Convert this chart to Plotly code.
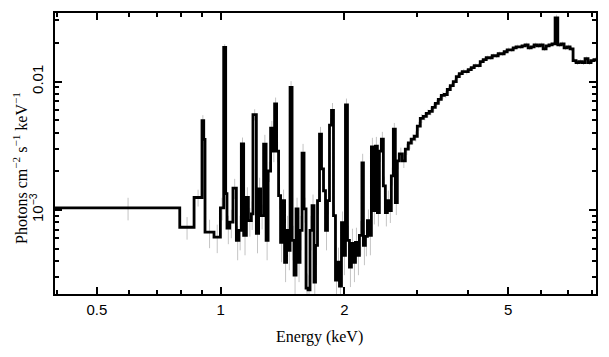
import plotly.graph_objects as go

# Bin edges (keV) of the step spectrum
energy_edges = [
    0.3955, 0.7952, 0.8615, 0.9007, 0.9094, 0.9160, 0.9632, 0.9983, 1.0169, 1.0283,
    1.0358, 1.0516, 1.0711, 1.0917, 1.1076, 1.1225, 1.1372, 1.1546, 1.1676, 1.1873,
    1.1980, 1.2210, 1.2366, 1.2505, 1.2716, 1.2895, 1.3040, 1.3224, 1.3410, 1.3523,
    1.3675, 1.3829, 1.3984, 1.4141, 1.4300, 1.4461, 1.4624, 1.4747, 1.4913, 1.5080,
    1.5250, 1.5421, 1.5595, 1.5770, 1.5947, 1.6126, 1.6308, 1.6491, 1.6676, 1.6863,
    1.7005, 1.7196, 1.7389, 1.7585, 1.7783, 1.7983, 1.8185, 1.8389, 1.8596, 1.8805,
    1.9016, 1.9230, 1.9446, 1.9664, 1.9885, 2.0109, 2.0335, 2.0563, 2.0794, 2.1028,
    2.1264, 2.1503, 2.1744, 2.2050, 2.2236, 2.2485, 2.2738, 2.2993, 2.3251, 2.3513,
    2.3777, 2.4044, 2.4314, 2.4587, 2.4863, 2.5142, 2.5425, 2.5710, 2.5999, 2.6291,
    2.6586, 2.6885, 2.7187, 2.7647, 2.8115, 2.8590, 2.9073, 2.9565, 3.0065, 3.0573,
    3.1090, 3.1623, 3.2157, 3.2701, 3.3254, 3.3816, 3.4388, 3.4970, 3.5561, 3.6162,
    3.6774, 3.7396, 3.8028, 3.8671, 3.9325, 3.9990, 4.0666, 4.1354, 4.2053, 4.2764,
    4.3487, 4.4223, 4.4970, 4.5731, 4.6504, 4.7291, 4.8090, 4.8903, 4.9730, 5.0571,
    5.1426, 5.2296, 5.3180, 5.4079, 5.4994, 5.5924, 5.6869, 5.7831, 5.8809, 5.9803,
    6.0815, 6.1843, 6.2889, 6.3953, 6.5034, 6.6024, 6.7252, 6.8389, 6.9545, 7.0721,
    7.1917, 7.3133, 7.4370, 7.5628, 7.6906, 7.8207, 7.9529, 8.0874, 8.2242,
]

# Flux per bin (photons cm^-2 s^-1 keV^-1)
flux = [
    1.036e-3, 7.33e-4, 1.25e-3, 4.97e-3, 3.54e-3, 6.71e-4, 6.14e-4, 1.036e-3, 1.842e-2, 1.34e-3,
    7.21e-4, 8.02e-4, 1.48e-3, 5.79e-4, 6.92e-4, 3.27e-3, 6.33e-4, 1.25e-3, 8.26e-4, 9.31e-4,
    5.53e-3, 6.56e-4, 1.46e-3, 9.03e-4, 3.26e-3, 5.79e-4, 2.01e-3, 4.33e-3, 2.87e-3, 6.70e-3,
    2.87e-3, 1.29e-3, 5.59e-4, 1.18e-3, 3.91e-4, 6.92e-4, 4.84e-4, 8.99e-3, 5.79e-4, 3.10e-4,
    1.02e-3, 3.91e-4, 6.92e-4, 2.77e-3, 1.02e-3, 2.46e-4, 2.38e-4, 6.92e-4, 1.08e-3, 2.74e-4,
    5.30e-4, 1.18e-3, 3.89e-3, 2.09e-3, 1.41e-3, 6.92e-4, 1.18e-3, 4.57e-3, 5.97e-3, 9.03e-4,
    2.84e-4, 3.91e-4, 2.55e-4, 7.97e-4, 4.43e-4, 6.58e-3, 5.79e-4, 3.58e-4, 5.49e-4, 3.91e-4,
    5.59e-4, 4.43e-4, 6.33e-4, 2.32e-3, 5.30e-4, 6.22e-4, 8.26e-4, 6.33e-4, 3.09e-3, 9.88e-4,
    3.14e-3, 9.53e-4, 2.87e-3, 3.56e-3, 1.54e-3, 9.53e-4, 1.18e-3, 9.88e-4, 1.84e-3, 4.25e-3,
    1.14e-3, 2.41e-3, 2.73e-3, 2.41e-3, 2.98e-3, 3.32e-3, 3.56e-3, 3.75e-3, 4.49e-3, 5.17e-3,
    5.36e-3, 5.65e-3, 5.86e-3, 6.29e-3, 6.76e-3, 7.26e-3, 7.79e-3, 7.93e-3, 8.67e-3, 9.31e-3,
    1.000e-2, 1.093e-2, 1.153e-2, 1.195e-2, 1.195e-2, 1.238e-2, 1.283e-2, 1.330e-2, 1.330e-2, 1.428e-2,
    1.480e-2, 1.533e-2, 1.533e-2, 1.589e-2, 1.589e-2, 1.647e-2, 1.647e-2, 1.706e-2, 1.768e-2, 1.768e-2,
    1.832e-2, 1.865e-2, 1.865e-2, 1.898e-2, 1.932e-2, 1.832e-2, 1.865e-2, 1.932e-2, 1.898e-2, 1.932e-2,
    1.800e-2, 1.898e-2, 1.932e-2, 1.967e-2, 3.126e-2, 1.932e-2, 1.967e-2, 1.832e-2, 1.865e-2, 1.800e-2,
    1.454e-2, 1.403e-2, 1.428e-2, 1.403e-2, 1.506e-2, 1.403e-2, 1.454e-2, 1.480e-2,
]

# Relative 1-sigma error per bin
rel_err = [
    0.20, 0.20, 0.15, 0.10, 0.12, 0.25, 0.25, 0.20, 0.06, 0.20,
    0.25, 0.25, 0.18, 0.30, 0.30, 0.12, 0.30, 0.20, 0.25, 0.25,
    0.10, 0.30, 0.22, 0.22, 0.18, 0.30, 0.18, 0.14, 0.18, 0.12,
    0.18, 0.22, 0.30, 0.22, 0.30, 0.30, 0.30, 0.12, 0.30, 0.30,
    0.22, 0.30, 0.30, 0.18, 0.22, 0.30, 0.30, 0.30, 0.22, 0.30,
    0.30, 0.22, 0.14, 0.18, 0.22, 0.30, 0.22, 0.14, 0.14, 0.22,
    0.30, 0.30, 0.30, 0.22, 0.30, 0.12, 0.30, 0.30, 0.30, 0.30,
    0.30, 0.30, 0.30, 0.18, 0.30, 0.30, 0.22, 0.30, 0.18, 0.22,
    0.18, 0.22, 0.18, 0.14, 0.18, 0.22, 0.20, 0.20, 0.16, 0.12,
    0.20, 0.14, 0.12, 0.12, 0.10, 0.10, 0.09, 0.09, 0.08, 0.08,
    0.07, 0.07, 0.07, 0.07, 0.06, 0.06, 0.06, 0.06, 0.06, 0.05,
    0.05, 0.05, 0.05, 0.05, 0.05, 0.05, 0.05, 0.04, 0.04, 0.04,
    0.04, 0.04, 0.04, 0.04, 0.04, 0.04, 0.04, 0.04, 0.04, 0.04,
    0.04, 0.04, 0.04, 0.04, 0.04, 0.04, 0.04, 0.04, 0.04, 0.04,
    0.04, 0.04, 0.04, 0.04, 0.06, 0.04, 0.04, 0.04, 0.04, 0.04,
    0.04, 0.04, 0.04, 0.04, 0.04, 0.04, 0.04, 0.04,
]

x_tick_vals = [0.5, 1, 2, 5]
x_tick_text = ["0.5", "1", "2", "5"]
x_minor_vals = [0.4, 0.6, 0.7, 0.8, 0.9, 3, 4, 6, 7, 8]
y_tick_vals = [1e-3, 1e-2]
y_tick_text = ["10<sup>\u22123</sup>", "0.01"]
y_minor_vals = [3e-4, 4e-4, 5e-4, 6e-4, 7e-4, 8e-4, 9e-4,
                2e-3, 3e-3, 4e-3, 5e-3, 6e-3, 7e-3, 8e-3, 9e-3, 2e-2, 3e-2]

x_range = [-0.4029, 0.9126]
y_range = [-3.655, -1.466]

# error bars as vertical segments at the linear bin centres
ex, ey = [], []
for i, f in enumerate(flux):
    c = 0.5 * (energy_edges[i] + energy_edges[i + 1])
    ex += [c, c, None]
    ey += [f * (1 - rel_err[i]), f * (1 + rel_err[i]), None]

fig = go.Figure()
fig.add_trace(go.Scatter(x=ex, y=ey, mode="lines",
                         line=dict(color="#c4c4c4", width=1),
                         hoverinfo="skip", showlegend=False))
fig.add_trace(go.Scatter(x=energy_edges, y=flux + [flux[-1]], mode="lines",
                         line=dict(color="black", width=2.8, shape="hv"),
                         showlegend=False))

axis_common = dict(
    type="log", showgrid=False, zeroline=False,
    showline=True, linecolor="black", linewidth=2, mirror="allticks",
    ticks="inside", ticklen=7, tickwidth=1.5, tickcolor="black",
    tickmode="array",
    tickfont=dict(family="Liberation Sans, Arial, sans-serif", size=15, color="black"),
)

fig.update_xaxes(**axis_common, range=x_range, tickvals=x_tick_vals, ticktext=x_tick_text,
                 minor=dict(tickmode="array", tickvals=x_minor_vals, ticks="inside",
                            ticklen=4, tickwidth=1.5, tickcolor="black"),
                 ticklabelstandoff=1)
fig.update_yaxes(**axis_common, range=y_range, tickvals=y_tick_vals, ticktext=y_tick_text,
                 tickangle=-90,
                 minor=dict(tickmode="array", tickvals=y_minor_vals, ticks="inside",
                            ticklen=4, tickwidth=1.5, tickcolor="black"),
                 ticklabelstandoff=4)

title_font = dict(family="Liberation Serif, Times New Roman, serif", size=16, color="black")
fig.update_layout(
    width=609, height=357,
    margin=dict(l=55, r=12, t=11, b=63),
    paper_bgcolor="white", plot_bgcolor="white",
    annotations=[
        dict(text="Energy (keV)", xref="paper", yref="paper", x=0.489, y=-0.152,
             xanchor="center", yanchor="middle", showarrow=False, font=title_font),
        dict(text="Photons cm<sup>\u22122</sup> s<sup>\u22121</sup> keV<sup>\u22121</sup>",
             xref="paper", yref="paper", x=-0.0646, y=0.449, textangle=-90,
             xanchor="center", yanchor="middle", showarrow=False, font=title_font),
    ],
)

fig.write_html("out.html", config={"displayModeBar": False},
               post_script="document.body.style.margin='0';document.body.style.overflow='hidden';")
